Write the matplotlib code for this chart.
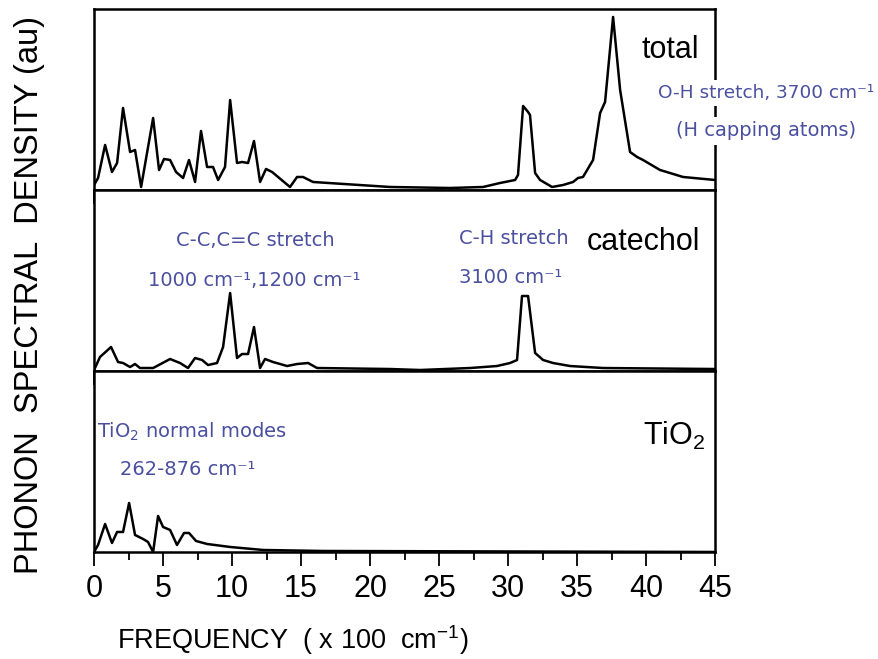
import matplotlib
matplotlib.use("Agg")
import matplotlib.pyplot as plt
from matplotlib.ticker import MultipleLocator

plt.rcParams['mathtext.default'] = 'regular'

# frequency in units of 100 cm^-1, density in arbitrary units
freq_total = [0.0, 0.29, 0.80, 1.30, 1.67, 2.10, 2.61, 2.97, 3.41, 4.28, 4.71, 5.07,
              5.51, 5.94, 6.45, 6.88, 7.32, 7.75, 8.19, 8.62, 8.99, 9.49, 9.86, 10.36,
              10.72, 11.16, 11.59, 12.03, 12.46, 12.90, 14.20, 14.71, 15.14, 15.87,
              21.45, 25.8, 28.19, 29.42, 30.51, 30.72, 31.09, 31.45, 31.59, 31.96,
              32.32, 33.19, 33.99, 34.71, 35.07, 35.43, 36.16, 36.67, 37.03, 37.61,
              38.12, 38.84, 39.35, 39.78, 41.01, 42.68, 45.0]
dens_total = [5, 12, 45, 18, 27, 82, 38, 40, 3, 72, 20, 31,
              30, 18, 12, 30, 8, 59, 23, 23, 10, 23, 90, 27,
              28, 27, 49, 8, 21, 18, 3, 13, 13, 8,
              3, 2, 3, 7, 10, 15, 84, 78, 75, 17,
              10, 3, 5, 8, 12, 13, 30, 77, 88, 173,
              100, 38, 33, 30, 20, 13, 10]

freq_cat = [0.0, 0.43, 1.23, 1.74, 2.10, 2.61, 2.97, 3.33, 4.28, 5.51, 6.23, 6.81,
            7.32, 7.83, 8.26, 8.91, 9.35, 9.86, 10.36, 10.72, 11.16, 11.59, 12.03,
            12.39, 12.97, 13.99, 14.71, 15.51, 16.16, 21.45, 23.62, 27.25, 29.20,
            30.14, 30.65, 31.01, 31.45, 31.96, 32.54, 33.26, 34.49, 36.88, 45.0]
dens_cat = [1, 14, 24, 9, 8, 4, 7, 3, 3, 12, 8, 3,
            13, 11, 6, 8, 24, 78, 13, 17, 17, 44, 3,
            12, 9, 5, 7, 8, 3, 2, 1, 3, 5,
            8, 11, 75, 75, 18, 11, 8, 5, 3, 2]

freq_tio2 = [0.0, 0.29, 0.80, 1.30, 1.67, 2.10, 2.54, 2.97, 3.55, 3.91, 4.28, 4.64,
             5.0, 5.51, 6.01, 6.52, 6.88, 7.39, 8.19, 9.86, 12.25, 16.59, 45.0]
dens_tio2 = [0, 7, 28, 9, 20, 20, 49, 17, 13, 10, 0, 36,
             25, 22, 7, 19, 19, 11, 8, 5, 2, 1, 0]

blue = '#4a4f9f'
sans = 'Liberation Sans'

fig = plt.figure(figsize=(8.79, 6.59), dpi=100)
left, width, h = 0.107, 0.7065, 0.2747
bottoms = [0.7117, 0.437, 0.1624]
axes = [fig.add_axes([left, b, width, h]) for b in bottoms]

for ax, x, y in zip(axes, [freq_total, freq_cat, freq_tio2],
                    [dens_total, dens_cat, dens_tio2]):
    ax.plot(x, y, color='black', lw=1.8)
    ax.set_xlim(0, 45)
    ax.set_ylim(0, 181)
    ax.set_yticks([])
    ax.xaxis.set_major_locator(MultipleLocator(5))
    ax.xaxis.set_minor_locator(MultipleLocator(2.5))
    ax.tick_params(axis='x', which='major', direction='out', length=10, width=1.3, pad=6)
    ax.tick_params(axis='x', which='minor', direction='out', length=6, width=1.3)
    for s in ax.spines.values():
        s.set_linewidth(1.8)

for ax in axes[:2]:
    ax.tick_params(axis='x', labelbottom=False)
for lbl in axes[2].get_xticklabels():
    lbl.set_family(sans)
    lbl.set_fontsize(22)

# panel names
axes[0].text(43.8, 132, 'total', ha='right', va='baseline', fontsize=22, family=sans)
axes[1].text(43.9, 121, 'catechol', ha='right', va='baseline', fontsize=22, family=sans,
             bbox=dict(facecolor='white', edgecolor='none', pad=1))
axes[2].text(44.3, 107, 'TiO$_2$', ha='right', va='baseline', fontsize=22, family=sans)

# mode annotations
kw = dict(color=blue, fontsize=14, family='DejaVu Sans', va='center')
box = dict(facecolor='white', edgecolor='none', pad=3)
axes[0].text(40.9, 97, 'O-H stretch, 3700 cm⁻¹', ha='left', bbox=box,
             **{**kw, 'fontsize': 13.3})
axes[0].text(42.2, 59, '(H capping atoms)', ha='left', bbox=box, **kw)
axes[1].text(11.7, 130, 'C-C,C=C stretch', ha='center', **kw)
axes[1].text(11.6, 91, '1000 cm⁻¹,1200 cm⁻¹', ha='center', **kw)
axes[1].text(30.4, 132, 'C-H stretch', ha='center', **kw)
axes[1].text(30.2, 94, '3100 cm⁻¹', ha='center', **kw)
axes[2].text(7.1, 120, 'TiO$_2$ normal modes', ha='center', **kw)
axes[2].text(6.8, 82, '262-876 cm⁻¹', ha='center', **kw)

fig.text(0.333, 0.029, 'FREQUENCY  ( x 100  cm$^{-1}$)', ha='center', va='center',
         fontsize=19.5, family=sans)
fig.text(0.034, 0.553, 'PHONON  SPECTRAL  DENSITY (au)', rotation=90, ha='center',
         va='center', fontsize=23.5, family=sans)

fig.savefig('out.png', dpi=100)
